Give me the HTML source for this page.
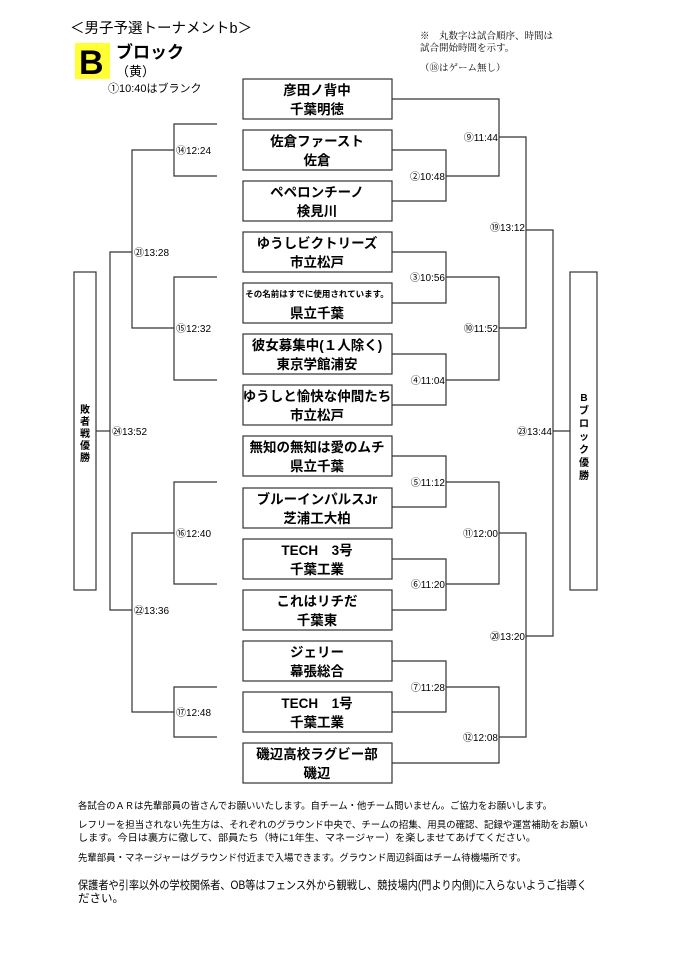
<!DOCTYPE html>
<html><head><meta charset="utf-8"><style>
html,body{margin:0;padding:0;background:#fff;}
svg{display:block;}
text{font-family:"Liberation Sans","Noto Sans CJK JP",sans-serif;fill:#000;}
.b{font-weight:bold;font-size:13.5px;}
.lbl{font-size:10px;}
.ft{font-size:9.5px;}
</style></head><body>
<svg width="678" height="960" viewBox="0 0 678 960" xmlns="http://www.w3.org/2000/svg">
<g stroke="#333" stroke-width="1.2" fill="none">
<!-- boxes -->
<rect x="243" y="79" width="149" height="40"/>
<rect x="243" y="130" width="149" height="40"/>
<rect x="243" y="181" width="149" height="40"/>
<rect x="243" y="232" width="149" height="40"/>
<rect x="243" y="283" width="149" height="40"/>
<rect x="243" y="334" width="149" height="40"/>
<rect x="243" y="385" width="149" height="40"/>
<rect x="243" y="436" width="149" height="40"/>
<rect x="243" y="488" width="149" height="40"/>
<rect x="243" y="539" width="149" height="40"/>
<rect x="243" y="590" width="149" height="40"/>
<rect x="243" y="641" width="149" height="40"/>
<rect x="243" y="692" width="149" height="40"/>
<rect x="243" y="743" width="149" height="40"/>
<rect x="74" y="272" width="22" height="318"/>
<rect x="570" y="272" width="27" height="318"/>
<!-- round1 right -->
<polyline points="392,150 446,150 446,201 392,201"/>
<polyline points="392,252 446,252 446,303 392,303"/>
<polyline points="392,354 446,354 446,405 392,405"/>
<polyline points="392,456 446,456 446,507 392,507"/>
<polyline points="392,559 446,559 446,610 392,610"/>
<polyline points="392,661 446,661 446,712 392,712"/>
<!-- round2 -->
<polyline points="392,99 499,99 499,176 446,176"/>
<polyline points="446,277 499,277 499,380 446,380"/>
<polyline points="446,482 499,482 499,584 446,584"/>
<polyline points="446,687 499,687 499,763 392,763"/>
<!-- round3 -->
<polyline points="499,137 526,137 526,328 499,328"/>
<polyline points="499,533 526,533 526,737 499,737"/>
<!-- round4 -->
<polyline points="526,230 553,230 553,636 526,636"/>
<line x1="553" y1="431" x2="570" y2="431"/>
<!-- left -->
<polyline points="217,124 174,124 174,176 217,176"/>
<polyline points="217,277 174,277 174,380 217,380"/>
<polyline points="217,482 174,482 174,584 217,584"/>
<polyline points="217,687 174,687 174,737 217,737"/>
<polyline points="174,150 132,150 132,328 174,328"/>
<polyline points="174,533 132,533 132,712 174,712"/>
<polyline points="132,252 110,252 110,610 132,610"/>
<line x1="96" y1="431" x2="110" y2="431"/>
</g>
<rect x="75" y="43" width="35" height="36" fill="#ffff33"/>
<text x="79" y="74" style="font-weight:bold;font-size:34px">B</text>
<text x="70" y="33" style="font-size:14.5px">＜男子予選トーナメントb＞</text>
<text x="116" y="58" style="font-weight:bold;font-size:17px">ブロック</text>
<text x="116" y="76" style="font-size:13px">（黄）</text>
<text x="108" y="92" style="font-size:11px">①10:40はブランク</text>
<g style="font-family:'Liberation Serif','Noto Serif CJK SC',serif;font-size:9.5px">
<text x="420" y="39" style="font-family:'Liberation Serif','Noto Serif CJK SC',serif">※　丸数字は試合順序、時間は</text>
<text x="420" y="51" style="font-family:'Liberation Serif','Noto Serif CJK SC',serif">試合開始時間を示す。</text>
<text x="420" y="71" style="font-family:'Liberation Serif','Noto Serif CJK SC',serif">（⑱はゲーム無し）</text>
</g>
<!-- box text -->
<g class="b" text-anchor="middle">
<text x="317" y="95" class="b">彦田ノ背中</text><text x="317" y="114" class="b">千葉明徳</text>
<text x="317" y="146" class="b">佐倉ファースト</text><text x="317" y="165" class="b">佐倉</text>
<text x="317" y="197" class="b">ペペロンチーノ</text><text x="317" y="216" class="b">検見川</text>
<text x="317" y="248" class="b">ゆうしビクトリーズ</text><text x="317" y="267" class="b">市立松戸</text>
<text x="317" y="297" style="font-weight:bold;font-size:8.5px">その名前はすでに使用されています。</text><text x="317" y="318" class="b">県立千葉</text>
<text x="317" y="350" class="b">彼女募集中(１人除く)</text><text x="317" y="369" class="b">東京学館浦安</text>
<text x="317" y="401" class="b">ゆうしと愉快な仲間たち</text><text x="317" y="420" class="b">市立松戸</text>
<text x="317" y="452" class="b">無知の無知は愛のムチ</text><text x="317" y="471" class="b">県立千葉</text>
<text x="317" y="504" class="b">ブルーインパルスJr</text><text x="317" y="523" class="b">芝浦工大柏</text>
<text x="317" y="555" class="b">TECH　3号</text><text x="317" y="574" class="b">千葉工業</text>
<text x="317" y="606" class="b">これはリチだ</text><text x="317" y="625" class="b">千葉東</text>
<text x="317" y="657" class="b">ジェリー</text><text x="317" y="676" class="b">幕張総合</text>
<text x="317" y="708" class="b">TECH　1号</text><text x="317" y="727" class="b">千葉工業</text>
<text x="317" y="759" class="b">磯辺高校ラグビー部</text><text x="317" y="778" class="b">磯辺</text>
</g>
<!-- right labels -->
<g class="lbl" text-anchor="end">
<text x="445" y="180" class="lbl">②10:48</text>
<text x="445" y="281" class="lbl">③10:56</text>
<text x="445" y="384" class="lbl">④11:04</text>
<text x="445" y="486" class="lbl">⑤11:12</text>
<text x="445" y="588" class="lbl">⑥11:20</text>
<text x="445" y="691" class="lbl">⑦11:28</text>
<text x="498" y="141" class="lbl">⑨11:44</text>
<text x="498" y="332" class="lbl">⑩11:52</text>
<text x="498" y="537" class="lbl">⑪12:00</text>
<text x="498" y="741" class="lbl">⑫12:08</text>
<text x="525" y="231" class="lbl">⑲13:12</text>
<text x="525" y="640" class="lbl">⑳13:20</text>
<text x="552" y="435" class="lbl">㉓13:44</text>
</g>
<g class="lbl">
<text x="176" y="154" class="lbl">⑭12:24</text>
<text x="176" y="332" class="lbl">⑮12:32</text>
<text x="176" y="537" class="lbl">⑯12:40</text>
<text x="176" y="716" class="lbl">⑰12:48</text>
<text x="134" y="256" class="lbl">㉑13:28</text>
<text x="134" y="614" class="lbl">㉒13:36</text>
<text x="112" y="435" class="lbl">㉔13:52</text>
</g>
<!-- vertical labels -->
<g style="font-weight:bold;font-size:10px" text-anchor="middle">
<text x="85" y="413" style="font-weight:bold;font-size:10px">敗</text>
<text x="85" y="425" style="font-weight:bold;font-size:10px">者</text>
<text x="85" y="437" style="font-weight:bold;font-size:10px">戦</text>
<text x="85" y="449" style="font-weight:bold;font-size:10px">優</text>
<text x="85" y="461" style="font-weight:bold;font-size:10px">勝</text>
<text x="584" y="401" style="font-weight:bold;font-size:10px">B</text>
<text x="584" y="414" style="font-weight:bold;font-size:10px">ブ</text>
<text x="584" y="427" style="font-weight:bold;font-size:10px">ロ</text>
<text x="584" y="440" style="font-weight:bold;font-size:10px">ッ</text>
<text x="584" y="453" style="font-weight:bold;font-size:10px">ク</text>
<text x="584" y="466" style="font-weight:bold;font-size:10px">優</text>
<text x="584" y="479" style="font-weight:bold;font-size:10px">勝</text>
</g>
<!-- footer -->
<text x="78" y="809" class="ft" textLength="474" lengthAdjust="spacingAndGlyphs">各試合のＡＲは先輩部員の皆さんでお願いいたします。自チーム・他チーム問いません。ご協力をお願いします。</text>
<text x="78" y="828" class="ft" textLength="510" lengthAdjust="spacingAndGlyphs">レフリーを担当されない先生方は、それぞれのグラウンド中央で、チームの招集、用具の確認、記録や運営補助をお願い</text>
<text x="78" y="841" class="ft" textLength="458" lengthAdjust="spacingAndGlyphs">します。今日は裏方に徹して、部員たち（特に1年生、マネージャー）を楽しませてあげてください。</text>
<text x="78" y="861" class="ft" textLength="448" lengthAdjust="spacingAndGlyphs">先輩部員・マネージャーはグラウンド付近まで入場できます。グラウンド周辺斜面はチーム待機場所です。</text>
<text x="78" y="889" style="font-size:11.5px" textLength="509" lengthAdjust="spacingAndGlyphs">保護者や引率以外の学校関係者、OB等はフェンス外から観戦し、競技場内(門より内側)に入らないようご指導く</text>
<text x="78" y="902" style="font-size:11.5px">ださい。</text>
</svg>
</body></html>
